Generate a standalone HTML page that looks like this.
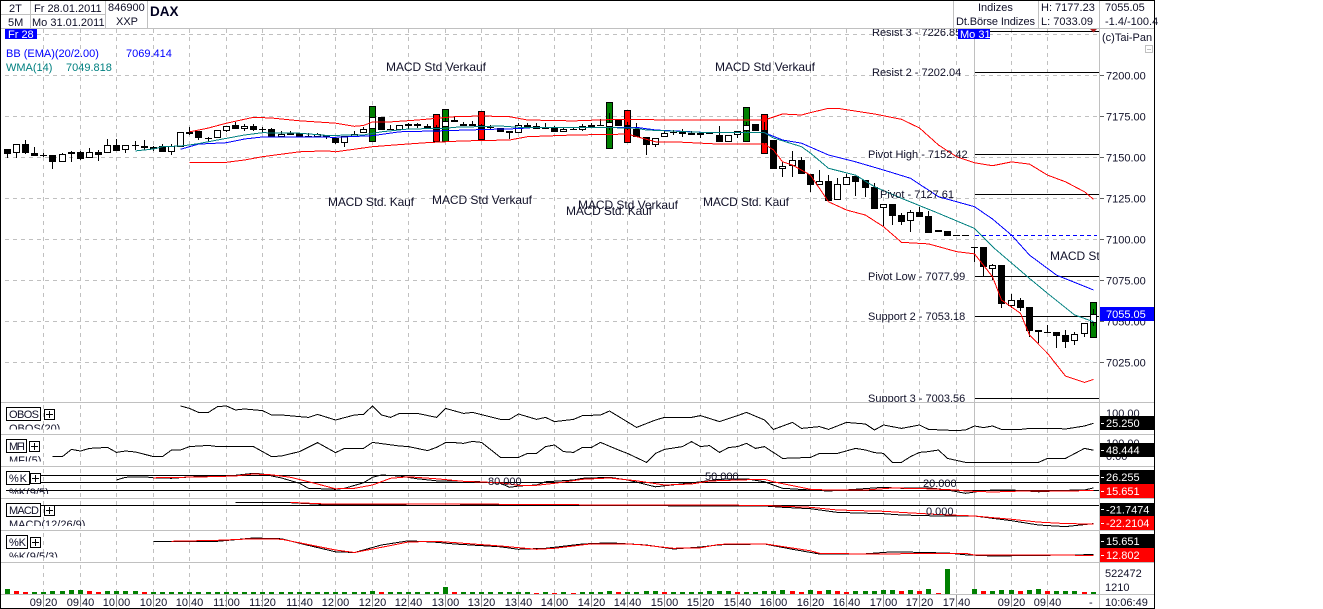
<!DOCTYPE html>
<html lang="de">
<head>
<meta charset="utf-8">
<title>DAX Chart</title>
<style>
html,body{margin:0;padding:0;background:#fff;width:1323px;height:609px;overflow:hidden}
svg{display:block;font-family:"Liberation Sans",Arial,sans-serif;font-size:11px;fill:#101028}
text{white-space:pre}
.sep{stroke:#c0c0c0;stroke-width:1;shape-rendering:crispEdges}
.blk{stroke:#000;stroke-width:1;shape-rendering:crispEdges}
.mk{font-size:12px}
.wt{fill:#fff}
.box{fill:#fff;stroke:#000;stroke-width:1;shape-rendering:crispEdges}
</style>
</head>
<body>
<svg id="chart" xmlns="http://www.w3.org/2000/svg" width="1323" height="609" viewBox="0 0 1323 609">
<defs>
<clipPath id="clipMain"><rect x="1" y="28.5" width="1098" height="373.5"/></clipPath>
<clipPath id="clipObos"><rect x="1" y="403" width="1098" height="26.5"/></clipPath>
<clipPath id="clipMfi"><rect x="1" y="435" width="1098" height="26.5"/></clipPath>
<clipPath id="clipK"><rect x="1" y="467" width="1098" height="27"/></clipPath>
<clipPath id="clipMacd"><rect x="1" y="499" width="1098" height="27"/></clipPath>
<clipPath id="clipK2"><rect x="1" y="531" width="1098" height="26.5"/></clipPath>
</defs>
<rect x="0" y="0" width="1155" height="609" fill="#fff"/>
<g id="gridLayer"></g>
<g id="mainLayer" clip-path="url(#clipMain)"></g>
<g clip-path="url(#clipMain)">
<text x="872" y="36">Resist 3 - 7226.85</text>
<text x="872" y="76">Resist 2 - 7202.04</text>
<text x="868" y="158">Pivot High - 7152.42</text>
<text x="880" y="198">Pivot - 7127.61</text>
<text x="868" y="280">Pivot Low - 7077.99</text>
<text x="868" y="320">Support 2 - 7053.18</text>
<text x="868" y="402">Support 3 - 7003.56</text>
<text class="mk" x="386" y="71" textLength="100">MACD Std Verkauf</text>
<text class="mk" x="715" y="71" textLength="100">MACD Std Verkauf</text>
<text class="mk" x="328" y="206" textLength="86">MACD Std. Kauf</text>
<text class="mk" x="432" y="204" textLength="100">MACD Std Verkauf</text>
<text class="mk" x="578" y="209" textLength="100">MACD Std Verkauf</text>
<text class="mk" x="566" y="215" textLength="86">MACD Std. Kauf</text>
<text class="mk" x="703" y="206" textLength="86">MACD Std. Kauf</text>
<text class="mk" x="1050" y="260" textLength="100">MACD Std Verkauf</text>
</g>
<text x="6" y="57" style="fill:#0000ff">BB (EMA)(20/2.00)</text>
<text x="126" y="57" style="fill:#0000ff">7069.414</text>
<text x="6" y="71" style="fill:#008080">WMA(14)</text>
<text x="66" y="71" style="fill:#008080">7049.818</text>
<g id="subLayer"></g>

<g>
<g clip-path="url(#clipObos)"><text x="9" y="432">OBOS(20)</text></g>
<rect class="box" x="6.5" y="407.5" width="34" height="13"/>
<text x="9" y="418" textLength="30">OBOS</text>
<rect class="box" x="44.5" y="409.5" width="10" height="10"/>
<path class="blk" d="M46 414.5h7M49.5 411v7" fill="none"/>
<g clip-path="url(#clipMfi)"><text x="9" y="464">MFI(5)</text></g>
<rect class="box" x="6.5" y="439.5" width="20" height="13"/>
<text x="9" y="450" textLength="16">MFI</text>
<rect class="box" x="29.5" y="441.5" width="10" height="10"/>
<path class="blk" d="M31 446.5h7M34.5 443v7" fill="none"/>
<g clip-path="url(#clipK)"><text x="9" y="496">%K(9/5)</text></g>
<rect class="box" x="6.5" y="471.5" width="23" height="13"/>
<text x="9" y="482" textLength="18">%K</text>
<rect class="box" x="30.5" y="473.5" width="10" height="10"/>
<path class="blk" d="M32 478.5h7M35.5 475v7" fill="none"/>
<g clip-path="url(#clipMacd)"><text x="9" y="528">MACD(12/26/9)</text></g>
<rect class="box" x="6.5" y="503.5" width="34" height="13"/>
<text x="9" y="514" textLength="30">MACD</text>
<rect class="box" x="44.5" y="505.5" width="10" height="10"/>
<path class="blk" d="M46 510.5h7M49.5 507v7" fill="none"/>
<g clip-path="url(#clipK2)"><text x="9" y="560">%K(9/5/3)</text></g>
<rect class="box" x="6.5" y="535.5" width="21" height="13"/>
<text x="9" y="546" textLength="17">%K</text>
<rect class="box" x="30.5" y="537.5" width="10" height="10"/>
<path class="blk" d="M32 542.5h7M35.5 539v7" fill="none"/>
<text x="488" y="485">80.000</text>
<text x="705" y="480">50.000</text>
<text x="923" y="487">20.000</text>
<text x="926" y="515">0.000</text>
</g>

<g>
<rect x="1" y="1" width="148" height="27" fill="#fff"/>
<path class="sep" fill="none" d="M0 14.5H105M0 28.5H1154M30.5 1V28M105.5 1V28M147.5 1V28M953.5 1V28M1038.5 1V28M1099.5 0V608"/>
<text x="9" y="12">2T</text>
<text x="8" y="26">5M</text>
<text x="34" y="12">Fr 28.01.2011</text>
<text x="32" y="26">Mo 31.01.2011</text>
<text x="108" y="11">846900</text>
<text x="116" y="25">XXP</text>
<text x="150" y="16" font-size="13.5" font-weight="bold" style="fill:#000020">DAX</text>
<text x="978" y="11">Indizes</text>
<text x="956" y="25" textLength="79">Dt.Börse Indizes</text>
<text x="1041" y="11">H: 7177.23</text>
<text x="1041" y="25">L: 7033.09</text>
<text x="1105" y="11">7055.05</text>
<text x="1105" y="25">-1.4/-100.4</text>
<rect x="5" y="29" width="32" height="10" fill="#0000ff"/>
<text class="wt" x="8" y="38">Fr 28</text>
<rect x="958" y="29" width="32" height="10" fill="#0000ff"/>
<text class="wt" x="960" y="38">Mo 31</text>
<path d="M1090 29h7l-3.5 3.5z" fill="#b02020"/>
<text x="1102" y="41">(c)Tai-Pan</text>
<rect x="1145.5" y="45.5" width="7" height="7" fill="#fff" stroke="#c0c0c0"/>
<path class="sep" d="M1147 49.5h4"/>
</g>

<g id="rightLayer"></g>
<g>
<text x="1106" y="417">100.00</text>
<rect x="1100" y="416" width="54" height="14" fill="#000"/>
<text class="wt" x="1106" y="427">25.250</text>
<text x="1106" y="447">100.00</text>
<text x="1106" y="460">0.00</text>
<rect x="1100" y="443" width="54" height="14" fill="#000"/>
<text class="wt" x="1106" y="454">48.444</text>
<rect x="1100" y="470" width="54" height="14" fill="#000"/>
<text class="wt" x="1106" y="481">26.255</text>
<rect x="1100" y="484" width="54" height="14" fill="#ff0000"/>
<text class="wt" x="1106" y="495">15.651</text>
<rect x="1100" y="503" width="54" height="13" fill="#000"/>
<text class="wt" x="1106" y="513.5">-21.7474</text>
<rect x="1100" y="516" width="54" height="14" fill="#ff0000"/>
<text class="wt" x="1106" y="527">-22.2104</text>
<rect x="1100" y="534" width="54" height="14" fill="#000"/>
<text class="wt" x="1106" y="545">15.651</text>
<rect x="1100" y="548" width="54" height="14" fill="#ff0000"/>
<text class="wt" x="1106" y="559">12.802</text>
<path fill="none" stroke="#fff" shape-rendering="crispEdges" d="M1101 423.5h3M1101 450.5h3M1101 477.5h3M1101 491.5h3M1101 509.5h3M1101 523.5h3M1101 541.5h3M1101 555.5h3"/>
<text x="1105" y="577">522472</text>
<text x="1105" y="591">1210</text>
<text x="1105" y="606">10:06:49</text>
<text x="1089" y="606">-</text>
</g>
<path fill="none" stroke="#000" shape-rendering="crispEdges" d="M0.5 0V609M0 0.5H1155M1154.5 0V609M0 608.5H1155"/>
</svg>
<script>
// Price axis and candle data
const priceTicks = [7225, 7200, 7175, 7150, 7125, 7100, 7075, 7050, 7025];
const priceTickLabels = ["7200.00", "7175.00", "7150.00", "7125.00", "7100.00", "7075.00", "7050.00", "7025.00"];
const timeTickCandles = [4,8,12,16,20,24,28,32,36,40,44,48,52,56,60,64,68,72,76,80,84,88,92,96,100,104,110,114];
const timeTickLabels = ["09:20","09:40","10:00","10:20","10:40","11:00","11:20","11:40","12:00","12:20","12:40","13:00","13:20","13:40","14:00","14:20","14:40","15:00","15:20","15:40","16:00","16:20","16:40","17:00","17:20","17:40","09:20","09:40"];
const opens = [7155.5,7152.9,7158.6,7153.1,7151.8,7151.8,7147.8,7152.3,7153.7,7149.8,
7153.7,7152.9,7157.7,7155.1,7157.7,7157.1,7156.9,7157.3,7153.7,7156.9,
7166,7166.5,7162,7162,7166.6,7169.9,7167.5,7169.5,7167.7,7167.5,
7162.8,7165.2,7165.4,7163.2,7162.8,7164,7162.4,7159.3,7163,7165,
7167.5,7175,7167.5,7167,7170.5,7170.5,7169.7,7168.9,7168.7,7173.2,
7170.7,7170.7,7170.1,7168.7,7168.1,7166.5,7165.4,7170.3,7169.5,7168.7,
7168.7,7166,7167.7,7167.3,7170.1,7170.1,7168.9,7173.2,7170.1,7167.9,
7162.6,7157.7,7162.6,7165.7,7166,7165,7165.4,7165.2,7164.2,7160,
7164.2,7166.6,7170.7,7167.1,7161,7143.5,7145,7148.6,7140,7133.7,
7135.8,7124.2,7133.7,7139,7136.6,7132.3,7119.3,7121.8,7115,7111.4,
7116.9,7114.6,7105.9,7105.3,7102.8,7102.8,7095.7,7095.7,7082.5,7084.7,
7059.7,7063.4,7059.1,7045.1,7043.7,7043.7,7041.9,7038.3,7042.5,7049.3];
const highs = [7155.5,7158.6,7161,7156.5,7152.9,7151.8,7152.9,7154.3,7154.5,7155.9,
7154.9,7161.6,7161.4,7157.7,7160.2,7161,7157.3,7158.6,7158.4,7165.7,
7169.1,7166.5,7163,7167.1,7169.3,7172.1,7170.7,7170.7,7168.7,7168.1,
7166.6,7166.6,7165.4,7165.4,7165.4,7164,7162.4,7163.4,7166.5,7169.1,
7174.8,7175,7170.3,7169.9,7171.5,7171.5,7170.9,7170,7174.4,7175.2,
7172,7172.8,7170.7,7170,7168.1,7166.5,7171.3,7171.2,7171.2,7171.5,
7169.5,7168.7,7168.7,7170.7,7171.2,7173.6,7177.3,7173.2,7172,7171.2,
7162.6,7162.4,7166.6,7167.1,7167.5,7166.6,7165.4,7166,7169.5,7164.2,
7166.6,7172,7170.7,7172.1,7161,7147.7,7154.3,7150.8,7140,7142.7,
7139.6,7137.6,7140.2,7139,7136.6,7134.7,7121.8,7121.8,7116.7,7118.3,
7120.3,7117.7,7105.9,7105.3,7102.8,7102.8,7095.7,7095.7,7085.4,7084.7,
7067,7064.6,7059.1,7045.1,7048.2,7043.7,7045.1,7044.1,7049.3,7058];
const lows = [7150.2,7150.2,7152.4,7151.4,7150.4,7143.3,7147.8,7147.8,7149,7149.8,
7148.4,7152.9,7154.5,7153.2,7154.9,7154.9,7154.5,7153.7,7152,7156.9,
7164,7161,7160,7162,7166,7167.5,7166.5,7166.6,7165,7163,
7162.8,7164.2,7163,7163.2,7162.8,7161.6,7158.6,7156.9,7163,7165,
7167.5,7167,7167.5,7167,7167.7,7168.3,7167.9,7165.8,7168.7,7172.1,
7170.1,7170.1,7167.5,7167.5,7166,7161.6,7165.4,7168.1,7167.5,7167.5,
7166,7166,7167.1,7166.6,7168.1,7169.5,7167.1,7169.7,7167.1,7162.6,
7151.8,7156.9,7162.6,7164,7163,7164.4,7162,7164.6,7160,7160,
7162,7166,7166.6,7157.9,7143.5,7138.6,7138.6,7140,7129.3,7133.7,
7124,7124.2,7133.7,7126.8,7126.4,7119.1,7108.5,7109.1,7109.1,7105,
7114.2,7104.4,7105,7102.6,7102.8,7102.8,7086.8,7078,7075.6,7058.3,
7058.3,7056.9,7041,7037,7043.7,7033.9,7034.3,7036,7041,7047.5];
const closes = [7152.6,7158.6,7152.9,7151.4,7151.8,7147.8,7152.3,7153.5,7149.4,7153.5,
7152,7157.7,7154.5,7157.7,7157.7,7156.3,7156.1,7153.7,7157.3,7165.7,
7165.4,7162,7162,7167.1,7169.3,7167.5,7169.5,7167.3,7167.7,7163,
7164.4,7164.2,7163,7163.2,7164.6,7162.6,7159.3,7163.4,7164.8,7167.5,
7174.8,7167,7167.5,7169.9,7169.3,7169.3,7167.9,7165.8,7172.7,7172.1,
7170.1,7170.1,7167.5,7168.7,7166,7165.4,7169.9,7168.1,7167.5,7167.5,
7166,7167.9,7167.7,7169.3,7169.1,7170.1,7172,7169.7,7167.5,7162.6,
7157.7,7162.4,7165,7165.7,7165.4,7164.4,7164.6,7165.2,7160,7164.2,
7166.6,7170.3,7166.6,7159.3,7143.5,7145,7148.6,7140,7133.5,7135.8,
7124,7134,7138.2,7135.2,7132,7119.1,7121.8,7114.8,7111,7116.9,
7114.2,7104.4,7105,7102.6,7102.8,7102.8,7095.7,7083.4,7084.5,7060.8,
7063.2,7058.7,7044.7,7044.3,7043.7,7041.6,7038,7042.5,7049.3,7055.05];

// Bollinger bands and WMA
const bbUpperCandles = [20,22,24,27,29,32,36,38,39,40,42,45,49,52,55,57,62,67,73,81,83,85,87,88,90,91,95,98,100,102,104,106,108,110,112,114,116,118,119];
const bbUpperValues = [7165.9,7168.3,7171.2,7174.8,7174.4,7172.7,7171.2,7169.3,7169.8,7172,7172,7173.2,7175.2,7175.6,7175.2,7173.2,7172.6,7173.6,7173.2,7173.2,7173.2,7176.8,7176.2,7177.7,7180.3,7180.3,7176.8,7173.6,7168.3,7157.9,7150.8,7147.1,7145.3,7147.6,7146.3,7139.6,7135.5,7129.4,7124.8];
const bbLowerCandles = [20,24,26,28,32,35,36,40,43,46,50,55,57,62,68,71,73,78,83,84,85,86,88,90,92,94,96,98,101,104,106,108,109,111,112,114,116,118,119];
const bbLowerValues = [7147.4,7147.4,7148.8,7150.8,7153.8,7154.4,7153.8,7156.9,7158.2,7159.4,7160.4,7161,7163,7164,7164.6,7159.9,7159.9,7158.5,7158.5,7154.9,7147.7,7145.7,7139.6,7123.3,7118.3,7115.2,7108.1,7098.6,7097.6,7092.9,7091.5,7077.6,7063.4,7055.3,7042,7030.9,7017,7013.2,7015];
const bbMidCandles = [19,21,24,26,28,32,36,40,43,47,52,56,58,69,71,77,83,85,87,90,93,96,99,102,106,108,110,112,115,119];
const bbMidValues = [7155.3,7158.5,7159.3,7161.6,7162.8,7162.8,7162.6,7163.6,7166,7166.5,7167.3,7167.9,7168.7,7168.7,7167.1,7165.4,7165.4,7161,7159,7151.8,7147.7,7142.7,7137.6,7126.4,7120.3,7112.8,7103,7090.8,7078.6,7069.5];
const wmaCandles = [14,16,17,19,20,21,23,26,28,32,35,39,41,44,48,49,54,56,65,69,70,77,83,84,87,88,90,93,95,98,102,106,108,112,114,117,119];
const wmaValues = [7154.3,7155.5,7156.9,7157.3,7157.9,7158.8,7161,7164,7165.4,7165.1,7163.8,7164,7166,7167.7,7168.1,7168.7,7169.5,7168.7,7168.7,7168.1,7167.1,7165.4,7165.4,7162.2,7156.9,7152.9,7143.7,7139.6,7132.5,7125.4,7116.3,7107.1,7095.9,7076.6,7067.5,7054.3,7050.2];

// Pivot levels, previous close and signal boxes
const pivotLevels = [7226.85, 7202.04, 7152.42, 7127.61, 7077.99, 7053.18, 7003.56];
const previousClose = 7102.8;
const lastPrice = 7055.05;
const buyCandles = [40, 48, 66, 81, 119];
const buyTops = [7181.7, 7179.7, 7184, 7180.9, 7061.9];
const buyBottoms = [7159.9, 7159.9, 7155.3, 7159.9, 7040.4];
const sellCandles = [47, 52, 68, 83];
const sellTops = [7176.6, 7178.7, 7179.3, 7176.8];
const sellBottoms = [7159.6, 7161, 7159, 7152.4];

// Indicator panels
const obosCandles = [19,20,21,22,23,24,25,26,28,29,30,33,34,36,38,39,40,41,42,43,45,47,48,50,51,54,55,56,58,59,60,62,63,65,66,69,71,72,75,76,78,80,81,83,84,86,87,89,90,92,94,95,96,98,100,101,104,105,106,107,108,109,111,112,115,116,118,119];
const obosValues = [164,145,113,113,159,164,132,140,127,92,92,73,97,52,92,97,164,92,73,105,105,73,145,105,113,57,57,100,57,73,39,57,87,92,124,-7,52,73,73,87,39,87,113,52,-23,33,-15,-1,-23,33,20,-28,12,-15,12,-23,-33,-28,4,-9,4,-23,-23,-15,-15,-20,4,25.25];
const mfiCandles = [5,6,7,8,9,11,12,13,14,16,17,18,19,20,22,23,27,29,30,32,34,36,37,39,40,43,44,46,47,48,49,50,51,52,54,56,57,58,59,60,61,62,63,64,65,67,68,70,71,72,74,75,76,77,78,79,80,81,82,83,85,88,89,91,93,94,95,96,97,98,99,100,101,102,103,105,109,113,114,116,118,119];
const mfiValues = [-3,-3,55,42,63,71,31,42,34,-3,-3,50,50,77,87,77,77,-3,2,37,109,29,63,63,111,82,77,45,71,109,109,103,119,111,-9,-9,23,23,77,90,37,31,71,71,111,50,23,-49,23,55,77,117,77,85,31,69,77,103,63,77,-17,-9,23,23,63,50,29,23,-49,-49,-3,31,37,50,-17,-49,-49,-49,-17,-17,63,48.444];
const stochLevels = [80, 50, 20];
const stochKCandles = [12,13,15,16,18,20,23,25,27,28,30,32,33,36,37,39,40,41,43,45,47,49,52,54,55,56,58,59,62,63,66,68,71,73,76,78,81,83,85,88,90,93,96,98,101,103,105,106,108,110,113,117,118,119];
const stochKValues = [58,69,71,67,65,70,77,77,85,82,66,45,25,21,25,47,69,78,74,63,55,54,51,45,29,34,38,51,58,65,69,58,31,39,51,61,63,51,25,18,14,21,29,25,27,18,5,10,18,18,11,18,18,26.255];
const stochDCandles = [16,21,25,27,29,31,34,36,38,40,42,44,47,50,54,56,58,60,63,66,69,72,75,77,80,83,84,88,90,94,97,101,104,105,108,112,117,119];
const stochDValues = [67,70,74,82,79,69,42,23,25,38,65,71,63,53,47,37,37,45,61,66,55,38,42,54,58,61,51,21,18,18,26,23,18,14,10,15,15,15.651];
const macdCandles = [25,31,35,38,47,54,58,66,76,83,85,88,91,96,98,102,106,110,113,116,119];
const macdValues = [3.5,3.1,0.75,0.75,1.5,0.75,0.75,0,-0.8,-0.8,-2.4,-4,-8.4,-10,-11.5,-12.7,-12.7,-18.3,-23.5,-25.4,-21.7474];
const macdSignalCandles = [31,35,47,58,66,83,85,88,91,96,98,102,106,110,113,116,119];
const macdSignalValues = [3.5,1.5,1.5,1.1,0.3,0,-1.2,-2.4,-5.6,-7.1,-8.4,-11,-12.7,-16.7,-20,-21.75,-22.2104];
const slowKCandles = [16,23,27,30,32,36,38,41,44,47,49,54,56,59,63,66,70,73,76,78,83,86,89,94,97,103,105,108,114,119];
const slowKValues = [69,69,82,79,61,27,24,54,71,65,58,47,37,41,58,63,54,38,46,55,58,37,18,19,27,22,15,10,13,15.651];
const slowDCandles = [18,23,27,30,32,36,38,41,44,47,54,58,60,64,69,73,76,78,83,88,89,94,105,106,119];
const slowDValues = [69,73,79,77,63,34,24,45,66,69,50,37,41,59,57,41,43,57,59,31,21,18,21,14,12.802];

// Volume
const volumes = [105000,63000,42000,42000,42000,63000,63000,84000,84000,63000,
42000,63000,63000,63000,63000,42000,42000,42000,42000,42000,
42000,42000,42000,42000,42000,42000,42000,42000,42000,42000,
42000,42000,42000,42000,42000,42000,42000,42000,42000,42000,
63000,42000,42000,42000,42000,42000,42000,42000,146000,42000,
42000,42000,42000,42000,42000,42000,42000,42000,21000,42000,
21000,42000,21000,42000,42000,42000,63000,42000,42000,42000,
63000,63000,42000,42000,42000,42000,42000,63000,63000,63000,
42000,42000,42000,63000,63000,84000,63000,42000,84000,63000,
84000,63000,42000,63000,63000,63000,84000,84000,63000,84000,
63000,105000,21000,522472,0,0,105000,63000,63000,84000,
84000,63000,84000,105000,63000,63000,63000,63000,42000,42000];
const volumeDownCandles = [1,2,9,10,15,41,49,58,60,62,67,72,80,86,87,89,91,92,98,100,102,107,111,114,118];
const volumeMax = 522472;

// Axis functions
const SVGNS = "http://www.w3.org/2000/svg";
function xOf(i) { return Math.round(6.8 + 9.125 * i); }
function yOf(p) { return 76 + (7200 - p) * 1.64; }
function yObos(v) { return 426.5 - v * 0.125; }
function yMfi(v) { return 456.25 - v * 0.125; }
function yStoch(v) { return 494.5 - v * 0.25; }
function yMacd(v) { return 505.3 - v * 0.84; }
function ySlow(v) { return 558.5 - v * 0.25; }
function yVol(v) { return 594 - Math.round(v / volumeMax * 25); }

function mk(parent, tag, attrs) {
  const e = document.createElementNS(SVGNS, tag);
  for (const k in attrs) e.setAttribute(k, attrs[k]);
  parent.appendChild(e);
  return e;
}
function linePoints(idx, vals, yFn) {
  return idx.map(function (c, n) { return (xOf(c) + 0.5) + "," + yFn(vals[n]).toFixed(1); }).join(" ");
}
function series(parent, name, idx, vals, yFn, color) {
  const e = mk(parent, "polyline", { points: linePoints(idx, vals, yFn), fill: "none", stroke: color, "stroke-width": 1, "shape-rendering": "crispEdges" });
  
  
  return e;
}

const grid = document.getElementById("gridLayer");
const main = document.getElementById("mainLayer");
const sub = document.getElementById("subLayer");
const right = document.getElementById("rightLayer");

// Horizontal grid lines
priceTicks.forEach(function (p) {
  const y = Math.floor(yOf(p) - 0.5) + 0.5;
  const e = mk(grid, "line", { x1: 5, x2: 1099, y1: y, y2: y, stroke: "#c0c0c0", "stroke-dasharray": "4 4", "shape-rendering": "crispEdges" });
  
  
});
// Vertical grid lines and time labels
timeTickCandles.forEach(function (c, n) {
  const x = xOf(c) + 0.5;
  const e = mk(grid, "line", { x1: x, x2: x, y1: 29, y2: 594, stroke: "#c0c0c0", "stroke-dasharray": "4 4", "shape-rendering": "crispEdges" });
  
  
  const t = mk(grid, "text", { x: x, y: 606, "text-anchor": "middle" });
  t.textContent = timeTickLabels[n];
  
  
  const m = mk(grid, "line", { x1: x, x2: x, y1: 594, y2: 607, stroke: "#909090", "shape-rendering": "crispEdges" });
  
  
});
// Panel separators
[402, 434, 466, 498, 530, 562, 594].forEach(function (y) {
  const e = mk(grid, "line", { x1: 1, x2: 1154, y1: y + 0.5, y2: y + 0.5, class: "sep" });
  
  
});
const daySep = mk(grid, "line", { x1: 974.5, x2: 974.5, y1: 29, y2: 594, class: "sep" });



// Pivot level lines
pivotLevels.forEach(function (p) {
  const y = Math.round(yOf(p) - 0.5) + 0.5;
  const e = mk(main, "line", { x1: 975, x2: 1099, y1: y, y2: y, class: "blk" });
  
  
});
// Previous close
const pcy = Math.round(yOf(previousClose)) + 0.5;
const pc = mk(main, "line", { x1: 975, x2: 1097, y1: pcy, y2: pcy, stroke: "#0000ff", "stroke-dasharray": "4 3", "shape-rendering": "crispEdges" });



// Signal boxes
buyCandles.forEach(function (c, n) {
  const t = Math.round(yOf(buyTops[n]));
  const b = Math.round(yOf(buyBottoms[n]));
  const e = mk(main, "rect", { x: xOf(c) - 2.5, y: t + 0.5, width: 6, height: b - t - 1, fill: "#008000", stroke: "#000", "shape-rendering": "crispEdges" });
  
  
});
sellCandles.forEach(function (c, n) {
  const t = Math.round(yOf(sellTops[n]));
  const b = Math.round(yOf(sellBottoms[n]));
  const e = mk(main, "rect", { x: xOf(c) - 2.5, y: t + 0.5, width: 6, height: b - t - 1, fill: "#ff0000", stroke: "#000", "shape-rendering": "crispEdges" });
  
  
});

// Candles
opens.forEach(function (o, i) {
  const c = closes[i];
  const x = xOf(i);
  const g = mk(main, "g", { "shape-rendering": "crispEdges" });
  
  
  const hy = Math.round(yOf(highs[i]));
  const ly = Math.round(yOf(lows[i]));
  mk(g, "line", { x1: x + 0.5, x2: x + 0.5, y1: hy, y2: ly, stroke: "#000" });
  const ty = Math.round(yOf(Math.max(o, c)));
  const by = Math.round(yOf(Math.min(o, c)));
  if (by - ty < 1) {
    mk(g, "line", { x1: x - 3, x2: x + 4, y1: ty + 0.5, y2: ty + 0.5, stroke: "#000" });
  } else {
    mk(g, "rect", { x: x - 2.5, y: ty + 0.5, width: 6, height: Math.max(1, by - ty - 1), fill: c > o ? "#fff" : "#000", stroke: "#000" });
  }
});

// Overlays
series(main, 'bb-upper-line', bbUpperCandles, bbUpperValues, yOf, "#ff0000");
series(main, 'bb-lower-line', bbLowerCandles, bbLowerValues, yOf, "#ff0000");
series(main, 'bb-middle-line', bbMidCandles, bbMidValues, yOf, "#0000ff");
series(main, 'wma-line', wmaCandles, wmaValues, yOf, "#008080");

// Indicator panels
function panel(name) {
  const g = mk(sub, "g", {});
  
  
  return g;
}
const obosPanel = panel('obos-panel');
series(obosPanel, 'obos-line', obosCandles, obosValues, yObos, "#000");
const mfiPanel = panel('mfi-panel');
series(mfiPanel, 'mfi-line', mfiCandles, mfiValues, yMfi, "#000");
const stochPanel = panel('stochastic-panel');
stochLevels.forEach(function (v) {
  const y = Math.round(yStoch(v)) + 0.5;
  const e = mk(stochPanel, "line", { x1: 6, x2: 1099, y1: y, y2: y, class: "blk" });
  
  
});
series(stochPanel, 'stochastic-k-line', stochKCandles, stochKValues, yStoch, "#000");
series(stochPanel, 'stochastic-d-line', stochDCandles, stochDValues, yStoch, "#ff0000");
const macdPanel = panel('macd-panel');
const zeroY = Math.round(yMacd(0)) + 0.5;
const zeroLine = mk(macdPanel, "line", { x1: 6, x2: 1099, y1: zeroY, y2: zeroY, class: "blk" });


series(macdPanel, 'macd-line', macdCandles, macdValues, yMacd, "#000");
series(macdPanel, 'macd-signal-line', macdSignalCandles, macdSignalValues, yMacd, "#ff0000");
const slowPanel = panel('slow-stochastic-panel');
series(slowPanel, 'slow-stochastic-k-line', slowKCandles, slowKValues, ySlow, "#000");
series(slowPanel, 'slow-stochastic-d-line', slowDCandles, slowDValues, ySlow, "#ff0000");

// Volume bars
volumes.forEach(function (v, i) {
  if (v <= 0) return;
  const top = yVol(v);
  const down = volumeDownCandles.indexOf(i) >= 0;
  const e = mk(sub, "rect", { x: xOf(i) - 2, y: top, width: 5, height: 594 - top, fill: down ? "#ff0000" : "#008000", "shape-rendering": "crispEdges" });
  
  
});

// Price axis labels
priceTickLabels.forEach(function (label) {
  const p = parseFloat(label);
  const y = yOf(p) - 0.5;
  const t = mk(right, "text", { x: 1106, y: y + 4 });
  t.textContent = label;
  
  
  const m = mk(right, "line", { x1: 1100, x2: 1104, y1: Math.floor(y) + 0.5, y2: Math.floor(y) + 0.5, stroke: "#606060", "shape-rendering": "crispEdges" });
  
  
});
const lastY = yOf(lastPrice);
const lastBg = mk(right, "rect", { x: 1100, y: Math.round(lastY) - 7, width: 54, height: 14, fill: "#0000ff" });


const lastText = mk(right, "text", { x: 1106, y: Math.round(lastY) + 4, class: "wt" });
lastText.textContent = lastPrice.toFixed(2);


</script>
</body>
</html>
